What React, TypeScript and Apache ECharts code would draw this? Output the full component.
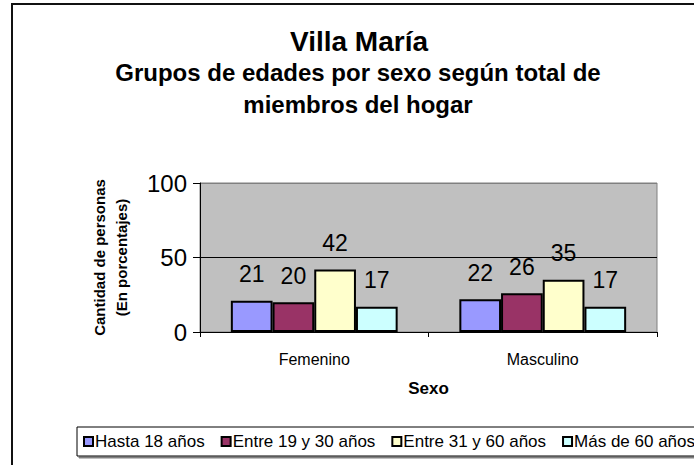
import React, { useEffect, useRef } from "react";
import * as echarts from "echarts";

const categories = ["Femenino", "Masculino"];
const seriesNames = ["Hasta 18 años", "Entre 19 y 30 años", "Entre 31 y 60 años", "Más de 60 años"];
const hasta18 = [21, 22];
const entre19y30 = [20, 26];
const entre31y60 = [42, 35];
const mas60 = [17, 17];
const seriesColors = ["#9999FF", "#993366", "#FFFFCC", "#CCFFFF"];
const yMin = 0;
const yMax = 100;
const yInterval = 50;

const titleText = "Villa María";
const subtitleText = "Grupos de edades por sexo según total de\nmiembros del hogar";
const xName = "Sexo";
const yName = "Cantidad de personas\n(En porcentajes)";

const FONT = "'Liberation Sans', Arial, sans-serif";

export default function App() {
  const ref = useRef<HTMLDivElement>(null);
  useEffect(() => {
    document.body.style.margin = "0";
    if (!ref.current) return;
    const chart = echarts.init(ref.current, null, { renderer: "svg" });
    const values = [hasta18, entre19y30, entre31y60, mas60];
    chart.setOption({
      animation: false,
      backgroundColor: "#ffffff",
      textStyle: { fontFamily: FONT },
      graphic: [
        {
          type: "rect",
          shape: { x: 12, y: 4, width: 720, height: 520 },
          style: { fill: "none", stroke: "#111", lineWidth: 2 },
          silent: true,
        },
        {
          type: "text",
          x: 359,
          y: 41,
          style: {
            text: titleText,
            fontFamily: FONT,
            fontSize: 28,
            fontWeight: "bold",
            fill: "#000",
            align: "center",
            verticalAlign: "middle",
          },
        },
        {
          type: "text",
          x: 358,
          y: 88,
          style: {
            text: subtitleText,
            fontFamily: FONT,
            fontSize: 24,
            lineHeight: 32,
            fontWeight: "bold",
            fill: "#000",
            align: "center",
            verticalAlign: "middle",
          },
        },
      ],
      legend: {
        data: seriesNames,
        left: 77,
        top: 427,
        width: 900,
        orient: "horizontal",
        padding: [6, 8, 6, 6],
        itemWidth: 9,
        itemHeight: 9,
        itemGap: 16,
        icon: "rect",
        borderColor: "#000",
        borderWidth: 1,
        backgroundColor: "#fff",
        shadowColor: "#808080",
        shadowOffsetX: 2,
        shadowOffsetY: 2,
        shadowBlur: 0,
        itemStyle: { borderColor: "#000", borderWidth: 2 },
        textStyle: { fontFamily: FONT, fontSize: 17, color: "#000", padding: [0, 0, 0, -3] },
      },
      grid: {
        left: 200,
        right: 37,
        top: 183,
        bottom: 133,
        show: true,
        backgroundColor: "#C0C0C0",
        borderColor: "#808080",
        borderWidth: 1,
        containLabel: false,
      },
      xAxis: {
        type: "category",
        data: categories,
        name: xName,
        nameLocation: "middle",
        nameGap: 48,
        nameTextStyle: { fontFamily: FONT, fontSize: 17, fontWeight: "bold", color: "#000" },
        axisLine: { show: true, lineStyle: { color: "#000", width: 1 } },
        axisTick: { show: true, length: 5, lineStyle: { color: "#000" } },
        axisLabel: { margin: 19, fontFamily: FONT, fontSize: 16, color: "#000" },
        splitLine: { show: false },
      },
      yAxis: {
        type: "value",
        min: yMin,
        max: yMax,
        interval: yInterval,
        name: yName,
        nameLocation: "middle",
        nameRotate: 90,
        nameGap: 68,
        nameTextStyle: { fontFamily: FONT, fontSize: 15, fontWeight: "bold", color: "#000", lineHeight: 22 },
        axisLine: { show: true, lineStyle: { color: "#000", width: 1 } },
        axisTick: { show: true, length: 7, lineStyle: { color: "#000" } },
        axisLabel: { margin: 13, fontFamily: FONT, fontSize: 24, color: "#000" },
        splitLine: { show: true, lineStyle: { color: ["#000", "#000", "#808080"], width: 1 } },
      },
      series: seriesNames.map((name, i) => ({
        name,
        type: "bar",
        data: values[i],
        barGap: "0%",
        barCategoryGap: "27%",
        itemStyle: { color: seriesColors[i], borderColor: "#000", borderWidth: 2 },
        label: {
          show: true,
          position: "top",
          distance: 15,
          fontFamily: FONT,
          fontSize: 23,
          color: "#000",
        },
      })),
    });
    return () => chart.dispose();
  }, []);
  return <div ref={ref} style={{ width: 694, height: 465 }} />;
}
